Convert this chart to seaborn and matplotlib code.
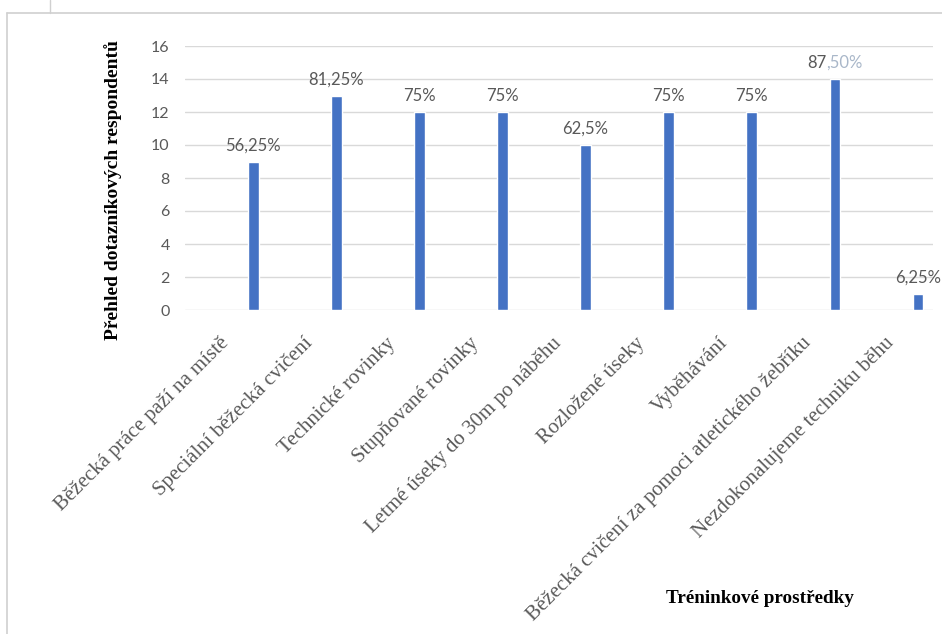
import matplotlib
matplotlib.use("Agg")
import matplotlib.pyplot as plt
import seaborn as sns
import pandas as pd
from matplotlib.lines import Line2D


# ---- Data ----------------------------------------------------####

categories = [
    "Běžecká práce paží na místě",
    "Speciální běžecká cvičení",
    "Technické rovinky",
    "Stupňované rovinky",
    "Letmé úseky do 30m po náběhu",
    "Rozložené úseky",
    "Vyběhávání",
    "Běžecká cvičení za pomoci atletického žebříku",
    "Nezdokonalujeme techniku běhu",
]
counts = [9, 13, 12, 12, 10, 12, 12, 14, 1]
pct_labels = ["56,25%", "81,25%", "75%", "75%", "62,5%", "75%", "75%", "87,50%", "6,25%"]
y_ticks = [0, 2, 4, 6, 8, 10, 12, 14, 16]

df = pd.DataFrame({"prostredek": categories, "pocet": counts})


# ---- Plot ----------------------------------------------------####

sns.set_style("white")
fig = plt.figure(figsize=(9.42, 6.34), dpi=100)
ax = fig.add_axes([185 / 942, 1 - 310 / 634, 748 / 942, 264 / 634])

sns.barplot(data=df, x="prostredek", y="pocet", color="#4472C4",
            width=0.13, saturation=1, ax=ax)

# excel style gridlines
ax.set_ylim(0, 16)
ax.set_yticks(y_ticks)
ax.yaxis.grid(True, color="#d9d9d9", linewidth=1)
ax.set_axisbelow(True)
sns.despine(ax=ax, left=True, bottom=True)

# categories are shifted: bar sits right of the category centre
ax.set_xlim(-0.82, 8.18)
ax.set_xticks([i - 0.32 for i in range(len(categories))])
ax.set_xticklabels(categories, rotation=45, ha="right", va="center",
                   rotation_mode="anchor", family="Liberation Serif",
                   fontsize=15, color="#595959")
ax.tick_params(axis="x", length=0, pad=22)
ax.tick_params(axis="y", length=0, pad=11, labelsize=11.5, labelcolor="#595959")
for t in ax.get_yticklabels():
    t.set_family("Lato")

# data labels
lab_kw = dict(textcoords="offset points", va="baseline", fontsize=12, family="Lato")
i_odd = pct_labels.index("87,50%")
for i, (v, lab) in enumerate(zip(counts, pct_labels)):
    if i == i_odd:
        continue
    ax.annotate(lab, (i, v), xytext=(0, 8), ha="center", color="#595959", **lab_kw)

# the 87,50% label has a faded decimal part in the original
tmp = ax.annotate(pct_labels[i_odd], (i_odd, counts[i_odd]), xytext=(0, 8), ha="center", **lab_kw)
fig.canvas.draw()
bb = tmp.get_window_extent()
tmp.remove()
anchor_x = ax.transData.transform((i_odd, counts[i_odd]))[0]
whole, dec = pct_labels[i_odd].split(",")
t1 = ax.annotate(whole, (i_odd, counts[i_odd]), xytext=((bb.x0 - anchor_x) * 72 / fig.dpi, 8),
                 ha="left", color="#595959", **lab_kw)
fig.canvas.draw()
x_split = t1.get_window_extent().x1
ax.annotate("," + dec, (i_odd, counts[i_odd]), xytext=((x_split - anchor_x) * 72 / fig.dpi, 8),
            ha="left", color="#a9b7c9", **lab_kw)

ax.set_ylabel("Přehled dotazníkových respondentů", family="Liberation Serif",
              fontweight="bold", fontsize=14, color="black")
ax.yaxis.set_label_coords(-0.084, 0.455)
ax.set_xlabel("Tréninkové prostředky", family="Liberation Serif",
              fontweight="bold", fontsize=13.8, color="black")
ax.xaxis.set_label_coords(0.769, -1.06)

# frame around the chart area
fig.add_artist(Line2D([7 / 942, 7 / 942], [0, 1 - 13 / 634], transform=fig.transFigure,
                      color="#d0d0d0", linewidth=1.2))
fig.add_artist(Line2D([7 / 942, 1], [1 - 13 / 634, 1 - 13 / 634], transform=fig.transFigure,
                      color="#d0d0d0", linewidth=1.2))
fig.add_artist(Line2D([50 / 942, 50 / 942], [1 - 13 / 634, 1], transform=fig.transFigure,
                      color="#d0d0d0", linewidth=1))

fig.savefig("out.png", dpi=100)
